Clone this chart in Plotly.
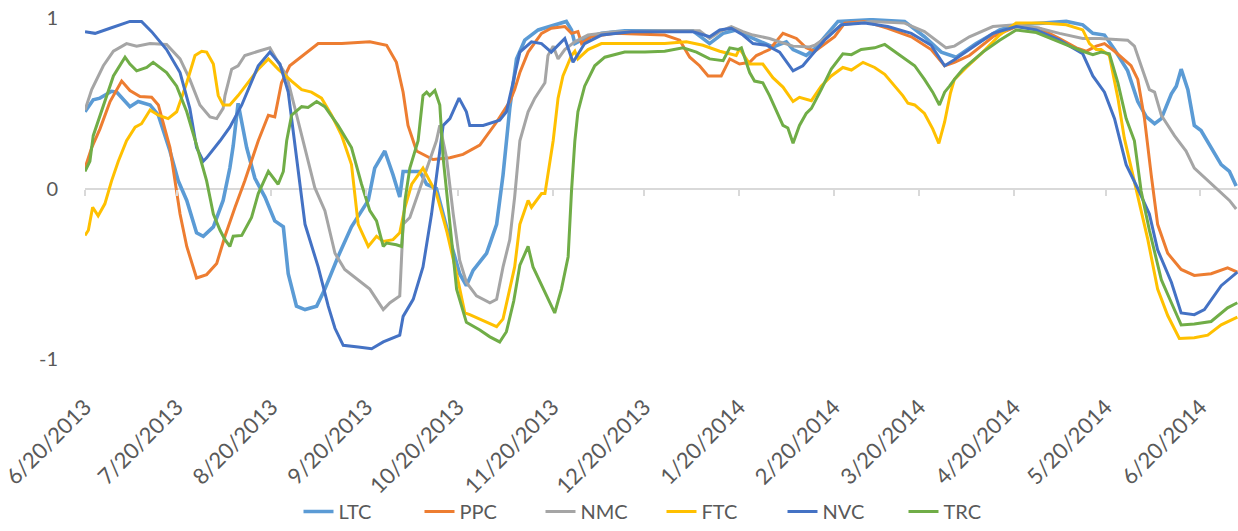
import pandas as pd
import plotly.graph_objects as go

START = pd.Timestamp("2013-06-20")
END_DAY = 377.3  # last day shown on the axis (days after START)

tick_dates = ["2013-06-20", "2013-07-20", "2013-08-20", "2013-09-20", "2013-10-20",
              "2013-11-20", "2013-12-20", "2014-01-20", "2014-02-20", "2014-03-20",
              "2014-04-20", "2014-05-20", "2014-06-20"]
tick_labels = ["6/20/2013", "7/20/2013", "8/20/2013", "9/20/2013", "10/20/2013",
               "11/20/2013", "12/20/2013", "1/20/2014", "2/20/2014", "3/20/2014",
               "4/20/2014", "5/20/2014", "6/20/2014"]

# ---- LTC ----
ltc_days = [0, 2.7, 4.9, 8.7, 10.4, 14.7, 17.4, 21.3, 24.0, 27.8, 30.5, 33.3, 36.5, 38.7, 42.0,
            45.2, 47.4, 48.5, 50.1, 52.9, 55.6, 58.9, 62.1, 64.9, 66.5, 69.2, 72.0, 75.8, 78.5,
            82.8, 87.2, 92.7, 94.8, 98.1, 100.8, 103.0, 104.1, 109.6, 111.8, 115.0, 119.4,
            122.6, 124.8, 127.0, 131.4, 134.7, 136.8, 139.0, 141.2, 143.9, 148.3, 153.7, 157.5,
            159.2, 160.3, 163.5, 169.0, 176.6, 198.9, 204.4, 208.8, 213.1, 218.6, 225.1, 229.5,
            231.7, 236.0, 238.8, 242.0, 246.4, 257.3, 268.2, 274.7, 280.2, 285.1, 291.6, 299.3,
            304.7, 313.4, 321.1, 326.5, 329.8, 333.6, 336.9, 341.2, 344.5, 347.3, 350.0, 352.2,
            355.5, 357.1, 358.7, 360.9, 363.0, 365.2, 368.5, 371.8, 374.5, 376.7]
ltc_vals = [0.45, 0.52, 0.53, 0.57, 0.565, 0.48, 0.51, 0.49, 0.43, 0.22, 0.045, -0.07, -0.26, -0.28, -0.225,
            -0.07, 0.12, 0.25, 0.50, 0.24, 0.06, -0.05, -0.19, -0.225, -0.50, -0.69, -0.71, -0.69, -0.59,
            -0.40, -0.225, -0.07, 0.12, 0.22, 0.08, -0.05, 0.10, 0.10, 0.025, 0.0, -0.30,
            -0.50, -0.57, -0.48, -0.38, -0.21, 0.08, 0.47, 0.76, 0.87, 0.93, 0.96, 0.98,
            0.93, 0.85, 0.88, 0.91, 0.925, 0.925, 0.85, 0.91, 0.93, 0.88, 0.83, 0.86,
            0.815, 0.78, 0.82, 0.89, 0.98, 0.99, 0.98, 0.89, 0.80, 0.77, 0.85, 0.93,
            0.96, 0.97, 0.98, 0.96, 0.91, 0.90, 0.815, 0.69, 0.51, 0.42, 0.38, 0.41,
            0.555, 0.60, 0.70, 0.58, 0.37, 0.34, 0.24, 0.14, 0.10, 0.015]

# ---- PPC ----
ppc_days = [0, 2.2, 4.9, 8.2, 12.0, 14.7, 18.0, 21.8, 24.0, 27.8, 31.1, 33.3, 36.5, 39.8, 43.1,
            45.8, 49.1, 52.3, 56.7, 60.0, 62.1, 64.3, 67.0, 72.0, 76.3, 84.0, 93.2, 98.7, 101.9,
            104.1, 105.7, 108.5, 113.9, 119.4, 123.7, 129.2, 134.7, 139.0, 140.6, 142.3, 145.0,
            149.4, 152.6, 157.0, 159.2, 161.3, 162.5, 165.7, 173.3, 189.7, 194.6, 197.9, 201.1,
            203.9, 208.2, 211.0, 214.2, 217.5, 219.7, 224.0, 228.4, 232.8, 236.0, 238.8, 245.3,
            248.6, 255.1, 262.7, 270.4, 276.9, 281.3, 284.5, 289.4, 297.1, 304.7, 312.3, 318.9,
            324.4, 327.6, 330.9, 333.6, 336.9, 342.3, 344.5, 346.7, 348.9, 351.0, 354.3, 358.7,
            363.0, 368.5, 373.9, 377.1]
ppc_vals = [0.12, 0.24, 0.35, 0.51, 0.63, 0.575, 0.54, 0.535, 0.49, 0.24, -0.15, -0.34, -0.525, -0.505, -0.44,
            -0.28, -0.11, 0.045, 0.28, 0.43, 0.42, 0.62, 0.72, 0.79, 0.85, 0.85, 0.86, 0.84, 0.74,
            0.565, 0.37, 0.22, 0.17, 0.18, 0.20, 0.255, 0.39, 0.51, 0.58, 0.68, 0.80,
            0.91, 0.94, 0.95, 0.91, 0.92, 0.85, 0.89, 0.91, 0.90, 0.87, 0.77, 0.72,
            0.66, 0.66, 0.76, 0.73, 0.74, 0.78, 0.815, 0.91, 0.88, 0.825, 0.805, 0.89,
            0.97, 0.98, 0.94, 0.89, 0.815, 0.72, 0.74, 0.78, 0.89, 0.95, 0.94, 0.88,
            0.825, 0.805, 0.835, 0.85, 0.805, 0.72, 0.64, 0.41, 0.08, -0.21, -0.38, -0.475,
            -0.51, -0.50, -0.465, -0.49]

# ---- NMC ----
nmc_days = [0, 2.2, 6.0, 9.3, 13.6, 16.9, 21.3, 26.7, 31.1, 34.3, 37.6, 40.9, 43.1, 45.2, 45.8,
            48.0, 50.1, 52.3, 56.7, 60.5, 63.2, 66.0, 68.7, 72.0, 75.2, 78.5, 81.8, 85.0, 89.4,
            93.2, 97.6, 99.8, 103.0, 104.1, 106.3, 109.6, 112.3, 115.0, 116.1, 118.3, 120.5,
            122.6, 124.8, 128.1, 132.5, 134.7, 136.8, 139.0, 140.6, 142.3, 145.0, 147.2, 150.5,
            151.5, 153.2, 154.8, 157.0, 160.3, 164.6, 173.3, 189.7, 201.1, 204.4, 207.7, 211.5,
            215.3, 218.6, 224.0, 227.3, 231.7, 237.1, 238.8, 242.0, 247.5, 257.3, 268.2, 274.7,
            279.1, 281.8, 284.5, 289.4, 297.1, 304.7, 312.3, 318.9, 326.5, 332.0, 341.2, 343.4,
            345.6, 348.3, 350.0, 352.2, 356.5, 360.3, 363.0, 367.4, 371.8, 374.5, 376.7]
nmc_vals = [0.46, 0.58, 0.72, 0.805, 0.85, 0.835, 0.85, 0.845, 0.76, 0.64, 0.49, 0.42, 0.41, 0.47, 0.545,
            0.70, 0.72, 0.78, 0.805, 0.825, 0.74, 0.66, 0.47, 0.24, 0.005, -0.13, -0.38, -0.475, -0.535,
            -0.59, -0.71, -0.67, -0.63, -0.21, -0.17, 0.005, 0.14, 0.28, 0.37, 0.18, -0.15,
            -0.42, -0.55, -0.63, -0.67, -0.65, -0.46, -0.30, -0.05, 0.28, 0.45, 0.53, 0.62,
            0.78, 0.835, 0.76, 0.815, 0.86, 0.90, 0.92, 0.925, 0.925, 0.88, 0.92, 0.95,
            0.92, 0.90, 0.88, 0.86, 0.835, 0.83, 0.84, 0.88, 0.96, 0.98, 0.97, 0.92,
            0.86, 0.825, 0.835, 0.89, 0.95, 0.96, 0.94, 0.91, 0.88, 0.88, 0.87, 0.835,
            0.72, 0.58, 0.565, 0.43, 0.31, 0.22, 0.12, 0.045, -0.03, -0.07, -0.12]

# ---- FTC ----
ftc_days = [0, 1.1, 2.5, 4.3, 6.5, 8.7, 10.9, 13.6, 16.4, 18.5, 21.3, 24.0, 27.2, 30.0, 33.3,
            36.0, 38.2, 39.8, 42.0, 43.6, 45.2, 47.4, 50.1, 53.4, 56.7, 60.0, 63.2, 67.6, 70.9,
            74.1, 77.4, 80.7, 84.0, 87.2, 89.4, 92.7, 95.4, 97.6, 100.8, 103.0, 104.7, 106.9,
            109.6, 110.6, 112.8, 115.0, 118.3, 121.6, 124.3, 125.9, 130.3, 134.7, 136.8, 139.0,
            140.6, 142.3, 145.0, 146.1, 149.4, 150.5, 151.5, 153.2, 154.8, 156.4, 159.2, 160.3,
            161.3, 164.6, 169.0, 189.7, 196.8, 202.2, 207.7, 213.1, 214.2, 217.5, 221.8, 225.1,
            228.4, 231.7, 233.8, 237.7, 240.9, 244.2, 248.0, 250.8, 254.6, 258.4, 261.7, 264.9,
            267.6, 269.3, 271.5, 274.7, 277.4, 279.4, 281.3, 283.2, 284.5, 288.4, 293.8, 299.3,
            304.7, 313.4, 321.1, 326.5, 328.7, 330.9, 332.5, 335.2, 338.0, 340.1, 342.3, 344.5,
            347.8, 351.0, 354.3, 358.1, 363.0, 367.4, 371.8, 377.1]
ftc_vals = [-0.275, -0.245, -0.11, -0.16, -0.09, 0.045, 0.16, 0.28, 0.36, 0.38, 0.46, 0.43, 0.41, 0.45, 0.62,
            0.78, 0.805, 0.80, 0.73, 0.545, 0.49, 0.49, 0.545, 0.62, 0.70, 0.76, 0.70, 0.63, 0.58,
            0.565, 0.53, 0.43, 0.31, 0.14, -0.21, -0.34, -0.28, -0.31, -0.30, -0.26, -0.11, 0.025,
            0.10, 0.12, 0.045, -0.03, -0.245, -0.50, -0.73, -0.74, -0.775, -0.81, -0.765, -0.59,
            -0.46, -0.21, -0.07, -0.11, -0.03, -0.03, 0.08, 0.28, 0.53, 0.66, 0.78, 0.805,
            0.76, 0.815, 0.85, 0.85, 0.86, 0.84, 0.805, 0.78, 0.82, 0.73, 0.73, 0.65,
            0.595, 0.51, 0.535, 0.515, 0.60, 0.66, 0.71, 0.695, 0.74, 0.71, 0.67, 0.60,
            0.545, 0.50, 0.49, 0.44, 0.35, 0.265, 0.39, 0.56, 0.64, 0.71, 0.80, 0.90,
            0.97, 0.97, 0.96, 0.93, 0.85, 0.815, 0.815, 0.78, 0.53, 0.295, 0.12, -0.05,
            -0.30, -0.59, -0.745, -0.88, -0.875, -0.86, -0.80, -0.755]

# ---- NVC ----
nvc_days = [0, 3.3, 8.2, 14.7, 18.5, 21.8, 26.7, 31.1, 34.3, 36.5, 38.7, 39.8, 44.2, 47.4, 51.3,
            56.7, 60.5, 63.8, 66.5, 69.2, 72.0, 76.3, 79.6, 81.8, 84.5, 89.4, 93.8, 97.6, 103.0,
            104.1, 107.4, 110.6, 113.4, 116.1, 117.2, 119.4, 122.4, 124.8, 125.9, 130.3, 135.7,
            137.9, 140.1, 142.3, 146.1, 149.4, 152.6, 157.0, 159.7, 163.5, 169.0, 178.8, 198.9,
            202.2, 204.4, 207.7, 211.5, 215.3, 218.6, 223.0, 227.3, 231.7, 234.9, 237.7, 242.0,
            247.5, 255.1, 262.7, 270.4, 276.9, 281.3, 284.5, 289.4, 297.1, 304.7, 311.3, 318.9,
            324.4, 326.5, 329.8, 333.6, 336.9, 340.7, 344.5, 348.3, 351.0, 355.5, 358.7, 363.0,
            366.3, 371.8, 377.1]
nvc_vals = [0.92, 0.91, 0.94, 0.98, 0.98, 0.92, 0.815, 0.68, 0.47, 0.24, 0.16, 0.18, 0.28, 0.36, 0.49,
            0.72, 0.80, 0.73, 0.565, 0.18, -0.21, -0.46, -0.69, -0.82, -0.92, -0.93, -0.94, -0.90, -0.86,
            -0.75, -0.65, -0.46, -0.15, 0.22, 0.37, 0.41, 0.53, 0.45, 0.37, 0.37, 0.40,
            0.45, 0.62, 0.80, 0.86, 0.85, 0.80, 0.88, 0.74, 0.85, 0.90, 0.92, 0.92,
            0.90, 0.89, 0.93, 0.94, 0.90, 0.85, 0.84, 0.80, 0.69, 0.72, 0.78, 0.87,
            0.96, 0.97, 0.95, 0.91, 0.84, 0.72, 0.755, 0.815, 0.91, 0.95, 0.93, 0.87,
            0.815, 0.79, 0.66, 0.565, 0.41, 0.14, 0.0, -0.15, -0.36, -0.55, -0.73, -0.74,
            -0.71, -0.57, -0.49]

# ---- TRC ----
trc_days = [0, 1.6, 2.7, 6.0, 9.3, 13.1, 14.7, 16.9, 20.2, 22.3, 26.7, 30.0, 33.3, 36.5, 39.8,
            42.0, 44.2, 45.8, 47.4, 48.5, 51.3, 54.5, 56.7, 60.0, 61.6, 63.2, 64.9, 66.0, 67.6,
            70.9, 73.0, 75.8, 78.5, 82.8, 87.2, 90.5, 93.2, 95.4, 97.6, 98.7, 101.9, 103.6,
            104.7, 106.3, 109.0, 110.6, 111.8, 112.8, 114.5, 116.1, 117.2, 119.4, 121.6, 124.8,
            129.2, 132.5, 135.7, 137.9, 140.3, 142.3, 145.0, 146.6, 149.4, 153.7, 155.9, 158.1,
            159.2, 160.3, 161.3, 163.5, 166.8, 170.1, 176.6, 183.2, 189.7, 195.7, 200.1, 204.4,
            208.8, 211.0, 213.7, 214.8, 217.5, 219.1, 221.8, 224.0, 228.4, 230.0, 231.7, 233.8,
            236.0, 237.7, 240.9, 244.2, 248.0, 250.8, 254.0, 258.4, 261.7, 264.9, 268.2, 271.5,
            274.7, 277.4, 279.6, 281.3, 282.9, 284.5, 287.3, 293.8, 299.3, 304.7, 311.3, 317.8,
            322.2, 326.5, 329.8, 332.5, 335.2, 338.0, 340.7, 343.4, 345.6, 348.3, 352.2, 355.5,
            358.7, 363.0, 368.5, 373.9, 377.1]
trc_vals = [0.10, 0.16, 0.31, 0.49, 0.66, 0.77, 0.73, 0.69, 0.71, 0.74, 0.68, 0.60, 0.45, 0.255, 0.045,
            -0.15, -0.245, -0.30, -0.34, -0.28, -0.275, -0.17, -0.03, 0.10, 0.065, 0.025, 0.10, 0.28, 0.43,
            0.48, 0.475, 0.51, 0.48, 0.37, 0.24, 0.025, -0.13, -0.19, -0.34, -0.32, -0.33, -0.34,
            -0.07, 0.12, 0.28, 0.545, 0.565, 0.545, 0.575, 0.49, 0.18, -0.21, -0.59, -0.785,
            -0.83, -0.87, -0.90, -0.84, -0.66, -0.45, -0.34, -0.46, -0.57, -0.73, -0.59, -0.40,
            -0.015, 0.28, 0.45, 0.60, 0.72, 0.77, 0.80, 0.80, 0.805, 0.825, 0.80, 0.76,
            0.75, 0.825, 0.815, 0.825, 0.68, 0.63, 0.62, 0.545, 0.37, 0.355, 0.265, 0.37,
            0.44, 0.47, 0.58, 0.70, 0.79, 0.785, 0.815, 0.825, 0.845, 0.805, 0.76, 0.72,
            0.64, 0.565, 0.49, 0.565, 0.60, 0.64, 0.70, 0.80, 0.87, 0.93, 0.915, 0.87,
            0.835, 0.805, 0.785, 0.80, 0.79, 0.62, 0.41, 0.28, -0.015, -0.245, -0.535, -0.67,
            -0.80, -0.795, -0.78, -0.70, -0.67]

series = [
    ("LTC", ltc_days, ltc_vals, "#5B9BD5", 3.6),
    ("PPC", ppc_days, ppc_vals, "#ED7D31", 3.0),
    ("NMC", nmc_days, nmc_vals, "#A5A5A5", 3.0),
    ("FTC", ftc_days, ftc_vals, "#FFC000", 3.0),
    ("NVC", nvc_days, nvc_vals, "#4472C4", 3.0),
    ("TRC", trc_days, trc_vals, "#70AD47", 3.0),
]

FONT = "Lato, 'Open Sans', sans-serif"
TXT = "#595959"
GRID = "#D9D9D9"

fig = go.Figure()
for name, days, vals, color, w in series:
    x = START + pd.to_timedelta(days, unit="D")
    fig.add_trace(go.Scatter(x=x, y=vals, name=name, mode="lines",
                             line=dict(color=color, width=w), xaxis="x", yaxis="y"))

# invisible trace for the tick-mark axis that crosses at y = 0
fig.add_trace(go.Scatter(x=[START], y=[0], mode="markers", marker=dict(opacity=0),
                         showlegend=False, hoverinfo="skip", xaxis="x2", yaxis="y"))

x_end = START + pd.Timedelta(days=END_DAY)
fig.update_layout(
    width=1238, height=531,
    margin=dict(l=85, r=0, t=18, b=167),
    paper_bgcolor="white", plot_bgcolor="white",
    font=dict(family=FONT, size=20, color=TXT),
    showlegend=True,
    legend=dict(orientation="h", x=0.5, xanchor="center", y=-0.448, yanchor="middle",
                font=dict(family=FONT, size=20, color=TXT),
                entrywidth=76, entrywidthmode="pixels", itemwidth=30,
                bgcolor="rgba(0,0,0,0)"),
    xaxis=dict(type="date", range=[START, x_end], tickvals=pd.to_datetime(tick_dates),
               ticktext=tick_labels, tickangle=-45, showgrid=False, zeroline=False,
               showline=False, ticks="", ticklabelstandoff=30, ticklabeloverflow="allow",
               tickfont=dict(family=FONT, size=22, color=TXT)),
    xaxis2=dict(type="date", range=[START, x_end], overlaying="x", anchor="free",
                position=0.5, side="bottom", tickvals=pd.to_datetime(tick_dates),
                showticklabels=False, ticks="outside", ticklen=6, tickwidth=1.5,
                tickcolor=GRID, showgrid=False, zeroline=False, showline=False),
    yaxis=dict(range=[-1, 1], tickvals=[-1, 0, 1], ticktext=["-1", "0", "1"],
               showgrid=True, gridcolor=GRID, gridwidth=1.5, zeroline=False,
               showline=False, ticks="", ticklabelstandoff=26,
               tickfont=dict(family=FONT, size=20, color=TXT)),
)

fig.write_html("out.html", config={"displayModeBar": False},
               post_script="document.body.style.margin='0';")
